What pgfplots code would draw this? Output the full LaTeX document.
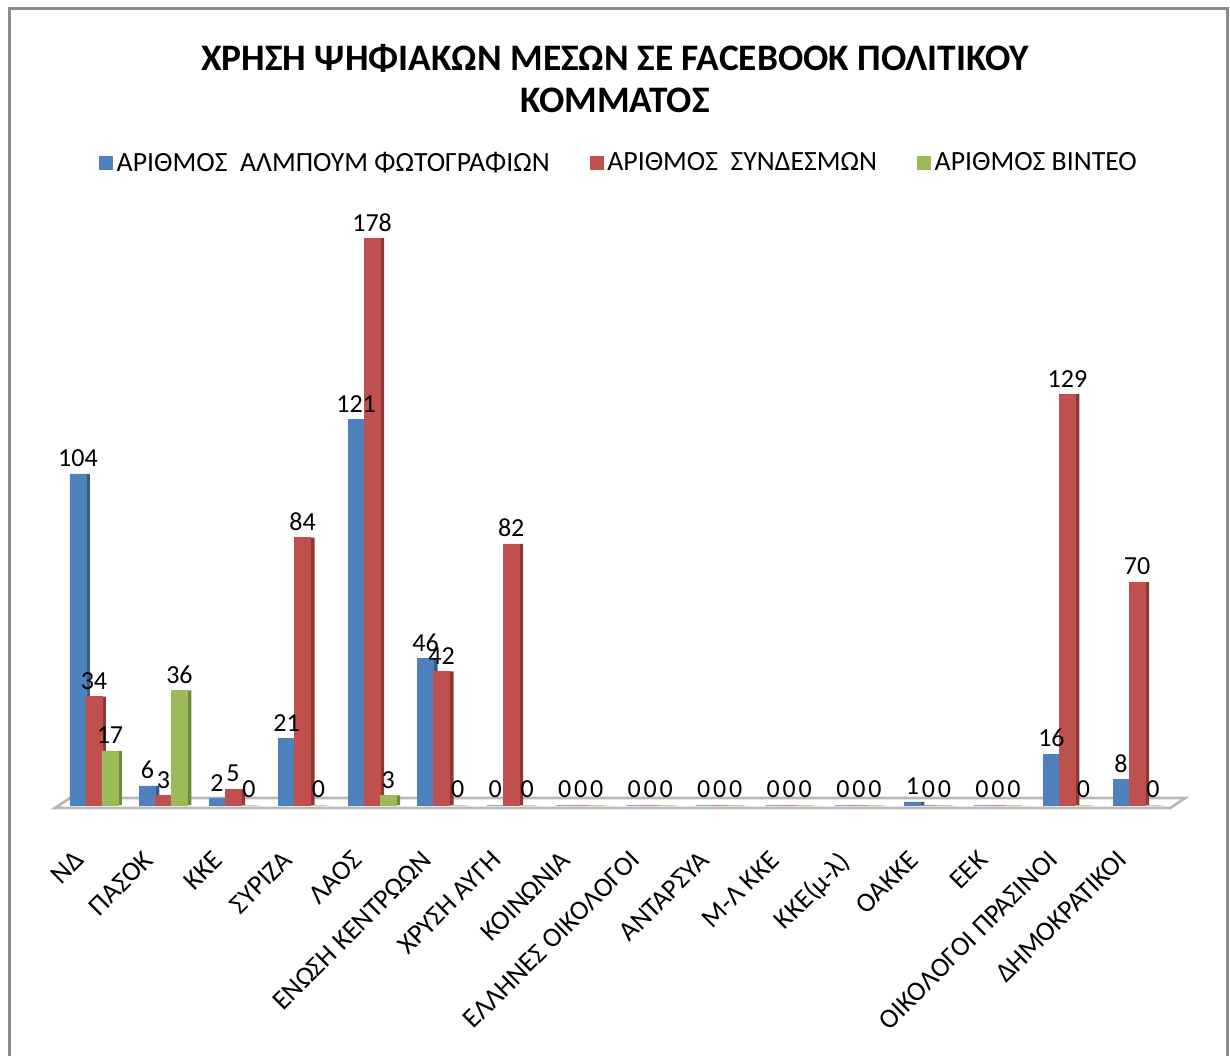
\documentclass[border=0pt]{standalone}
\usepackage{fontspec}
\setmainfont{Carlito}
\usepackage{pgfplots}
\pgfplotsset{compat=1.18}
\definecolor{cb}{HTML}{4F81BD}
\definecolor{cbd}{HTML}{385D8A}
\definecolor{cr}{HTML}{C0504D}
\definecolor{crd}{HTML}{8C3836}
\definecolor{cg}{HTML}{9BBB59}
\definecolor{cgd}{HTML}{71893F}
\begin{document}
\begin{tikzpicture}
\path[use as bounding box] (0pt,0pt) rectangle (615pt,527.5pt);
\draw[gray!90, line width=1.5pt] (4.5pt,-5pt) rectangle (613.5pt,523pt);
\node[font=\bfseries\fontsize{18.7}{21}\selectfont, align=center] at (307.5pt,488pt) {ΧΡΗΣΗ ΨΗΦΙΑΚΩΝ ΜΕΣΩΝ ΣΕ FACEBOOK ΠΟΛΙΤΙΚΟΥ\\ΚΟΜΜΑΤΟΣ};
\begin{axis}[
  at={(27.5pt,125pt)}, anchor=south west,
  scale only axis, width=565pt, height=302.5pt,
  xmin=-0.56, xmax=15.69, ymin=0, ymax=190,
  clip=false,
  axis line style={draw=none},
  ytick=\empty,
  xtick={0,...,15},
  xticklabels={ΝΔ,ΠΑΣΟΚ,ΚΚΕ,ΣΥΡΙΖΑ,ΛΑΟΣ,ΕΝΩΣΗ ΚΕΝΤΡΩΩΝ,ΧΡΥΣΗ ΑΥΓΗ,ΚΟΙΝΩΝΙΑ,ΕΛΛΗΝΕΣ ΟΙΚΟΛΟΓΟΙ,ΑΝΤΑΡΣΥΑ,Μ-Λ ΚΚΕ,ΚΚΕ(μ-λ),ΟΑΚΚΕ,ΕΕΚ,ΟΙΚΟΛΟΓΟΙ ΠΡΑΣΙΝΟΙ,ΔΗΜΟΚΡΑΤΙΚΟΙ},
  major tick length=0pt,
  xticklabel style={rotate=45, anchor=north east, font=\fontsize{13.7}{15}\selectfont, inner sep=1pt, yshift=-7pt, xshift=-22pt},
  ybar, bar width=8pt,
  /pgf/number format/assume math mode=true,
  every node near coord/.append style={font=\fontsize{13}{15}\selectfont, text=black},
  legend columns=3,
  legend style={draw=none, at={(0.5,1)}, anchor=center, yshift=18.5pt, font=\fontsize{13.9}{15}\selectfont, /tikz/every even column/.append style={column sep=18pt}},
  legend image code/.code={\fill[#1] (0pt,-3.25pt) rectangle (6.5pt,3.25pt);},
]
\draw[gray!55, line width=1.4pt, fill=white] (axis cs:-0.56,-0.94) -- (axis cs:15.48,-0.94) -- (axis cs:15.69,2.2) -- (axis cs:-0.345,2.2) -- cycle;
% blue
\addplot[fill=cbd, draw=none, bar shift=-3pt, bar width=2pt, forget plot] coordinates {(0,104) (1,6) (2,2) (3,21) (4,121) (5,46) (6,0) (7,0) (8,0) (9,0) (10,0) (11,0) (12,1) (13,0) (14,16) (15,8)};
\addplot[fill=cb, draw=cb, line width=0.3pt, bar shift=-8pt, nodes near coords] coordinates {(0,104) (1,6) (2,2) (3,21) (4,121) (5,46) (6,0) (7,0) (8,0) (9,0) (10,0) (11,0) (12,1) (13,0) (14,16) (15,8)};
\addlegendentry{ΑΡΙΘΜΟΣ\ \ ΑΛΜΠΟΥΜ ΦΩΤΟΓΡΑΦΙΩΝ}
% red
\addplot[fill=crd, draw=none, bar shift=5pt, bar width=2pt, forget plot] coordinates {(0,34) (1,3) (2,5) (3,84) (4,178) (5,42) (6,82) (7,0) (8,0) (9,0) (10,0) (11,0) (12,0) (13,0) (14,129) (15,70)};
\addplot[fill=cr, draw=cr, line width=0.3pt, bar shift=0pt, nodes near coords] coordinates {(0,34) (1,3) (2,5) (3,84) (4,178) (5,42) (6,82) (7,0) (8,0) (9,0) (10,0) (11,0) (12,0) (13,0) (14,129) (15,70)};
\addlegendentry{ΑΡΙΘΜΟΣ\ \ ΣΥΝΔΕΣΜΩΝ}
% green
\addplot[fill=cgd, draw=none, bar shift=13pt, bar width=2pt, forget plot] coordinates {(0,17) (1,36) (2,0) (3,0) (4,3) (5,0) (6,0) (7,0) (8,0) (9,0) (10,0) (11,0) (12,0) (13,0) (14,0) (15,0)};
\addplot[fill=cg, draw=cg, line width=0.3pt, bar shift=8pt, nodes near coords] coordinates {(0,17) (1,36) (2,0) (3,0) (4,3) (5,0) (6,0) (7,0) (8,0) (9,0) (10,0) (11,0) (12,0) (13,0) (14,0) (15,0)};
\addlegendentry{ΑΡΙΘΜΟΣ ΒΙΝΤΕΟ}
\end{axis}
\end{tikzpicture}
\end{document}
